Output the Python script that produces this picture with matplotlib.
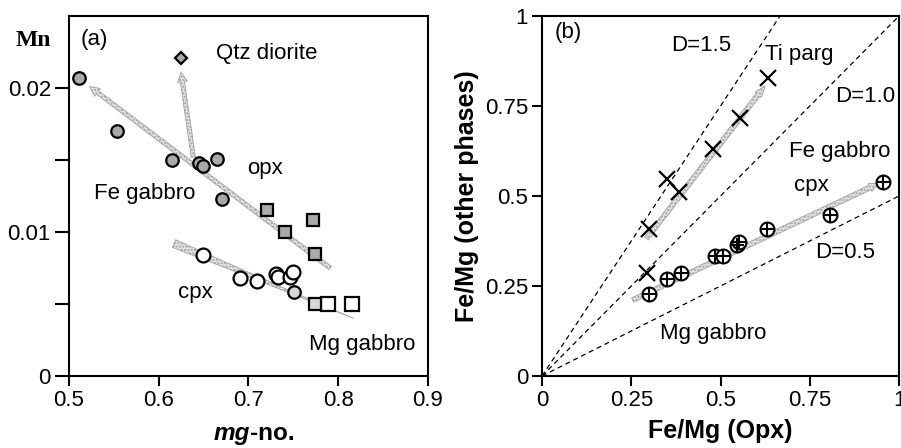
import numpy as np
import matplotlib
matplotlib.use("Agg")
import matplotlib.pyplot as plt

plt.rcParams['font.family'] = ['Liberation Sans', 'DejaVu Sans']

# ---- panel (a): Mn vs mg-no. ----
opx_fe_x = [0.511, 0.554, 0.615, 0.645, 0.649, 0.665, 0.671]
opx_fe_y = [0.0207, 0.0170, 0.0150, 0.0148, 0.0146, 0.0151, 0.0123]
opx_sq_x = [0.721, 0.741, 0.772, 0.774]
opx_sq_y = [0.0115, 0.0100, 0.0108, 0.0085]
cpx_x = [0.649, 0.691, 0.709, 0.731, 0.733, 0.746, 0.750]
cpx_y = [0.0084, 0.0068, 0.0066, 0.0071, 0.0069, 0.0069, 0.0072]
cpx_light_x = [0.751]
cpx_light_y = [0.0058]
cpx_sq_x = [0.789, 0.815]
cpx_sq_y = [0.0050, 0.0050]
cpx_sq_light_x = [0.774]
cpx_sq_light_y = [0.0050]
qtz_x = [0.625]
qtz_y = [0.0221]

trend_opx = [(0.791, 0.0075), (0.523, 0.0201)]
trend_qtz = [(0.6385, 0.0152), (0.6248, 0.0211)]
trend_cpx = [(0.617, 0.0092), (0.817, 0.0040)]

# ---- panel (b): Fe/Mg ----
tiparg_x = [0.632, 0.555, 0.480, 0.351, 0.385, 0.300, 0.295]
tiparg_y = [0.827, 0.718, 0.631, 0.547, 0.512, 0.407, 0.287]
cpxb_x = [0.956, 0.807, 0.629, 0.545, 0.553, 0.485, 0.508, 0.389, 0.351, 0.300]
cpxb_y = [0.540, 0.447, 0.407, 0.364, 0.373, 0.332, 0.332, 0.287, 0.269, 0.228]
D_values = [1.5, 1.0, 0.5]

trend_tiparg = [(0.293, 0.382), (0.625, 0.806)]
trend_cpxb = [(0.254, 0.211), (0.947, 0.537)]

FS = 16
STIP_FC = '#e2e2e2'
STIP_EC = '#a0a0a0'


def trend(ax, pts, style):
    ax.annotate('', xy=pts[1], xytext=pts[0],
                arrowprops=dict(arrowstyle=style, fc=STIP_FC, ec=STIP_EC,
                                lw=0.6, hatch='.....', shrinkA=0, shrinkB=0),
                zorder=1)


def style_axes(ax):
    for s in ax.spines.values():
        s.set_linewidth(1.5)
    ax.tick_params(direction='out', width=1.5, length=7, labelsize=FS,
                   pad=3)


fig = plt.figure(figsize=(9.01, 4.48), dpi=100)
axa = fig.add_axes([0.0766, 0.1607, 0.475 - 0.0766, 0.8036])
axb = fig.add_axes([0.6016, 0.1607, 0.9978 - 0.6016, 0.8036])

# panel (a)
trend(axa, trend_opx, 'simple,head_length=0.7,head_width=0.7,tail_width=0.3')
trend(axa, trend_qtz, 'simple,head_length=0.7,head_width=0.7,tail_width=0.3')
trend(axa, trend_cpx, 'wedge,tail_width=0.6,shrink_factor=0.4')

mk = dict(mec='black', mew=1.6, ls='none', zorder=3)
axa.plot(opx_fe_x, opx_fe_y, 'o', ms=9, mfc='#a9a9a9', **mk)
axa.plot(opx_sq_x, opx_sq_y, 's', ms=9, mfc='#a9a9a9', **mk)
axa.plot(cpx_x, cpx_y, 'o', ms=10, mfc='white', **mk)
axa.plot(cpx_light_x, cpx_light_y, 'o', ms=9, mfc='#d8d8d8', **mk)
axa.plot(cpx_sq_x, cpx_sq_y, 's', ms=10, mfc='white', **mk)
axa.plot(cpx_sq_light_x, cpx_sq_light_y, 's', ms=9, mfc='#d8d8d8', **mk)
axa.plot(qtz_x, qtz_y, 'D', ms=6, mfc='#a9a9a9', **mk)

axa.set_xlim(0.5, 0.9)
axa.set_ylim(0, 0.025)
axa.set_xticks([0.5, 0.6, 0.7, 0.8, 0.9])
axa.set_xticklabels(['0.5', '0.6', '0.7', '0.8', '0.9'])
axa.set_yticks([0, 0.005, 0.01, 0.015, 0.02])
axa.set_yticklabels(['0', '', '0.01', '', '0.02'])
style_axes(axa)
axa.tick_params(axis='y', length=10)

axa.text(0.528, 0.0234, '(a)', fontsize=FS, ha='center', va='center')
axa.text(0.7206, 0.0224, 'Qtz diorite', fontsize=FS, ha='center', va='center')
axa.text(0.7184, 0.0144, 'opx', fontsize=FS, ha='center', va='center')
axa.text(0.5847, 0.0127, 'Fe gabbro', fontsize=FS, ha='center', va='center')
axa.text(0.6404, 0.0058, 'cpx', fontsize=FS, ha='center', va='center')
axa.text(0.8265, 0.0022, 'Mg gabbro', fontsize=FS, ha='center', va='center')

fig.text(33 / 901, 1 - 40 / 448, 'Mn', fontsize=17, fontweight='bold',
         family='Liberation Serif', ha='center', va='center')
fig.text(250 / 901, 1 - 433 / 448, 'mg', fontsize=17.5, fontweight='bold',
         style='italic', ha='right', va='center')
fig.text(250 / 901, 1 - 433 / 448, '-no.', fontsize=17.5, fontweight='bold',
         ha='left', va='center')

# panel (b)
for D in D_values:
    xe = min(1.0, 1.0 / D)
    axb.plot([0, xe], [0, D * xe], ls=(0, (4, 3)), color='black', lw=0.9,
             zorder=2)

trend(axb, trend_tiparg, 'simple,head_length=0.8,head_width=0.6,tail_width=0.35')
trend(axb, trend_cpxb, 'simple,head_length=0.8,head_width=0.6,tail_width=0.35')

axb.plot(tiparg_x, tiparg_y, 'x', ms=11, mew=1.6, color='black', zorder=3)
axb.plot(cpxb_x, cpxb_y, 'o', ms=10, mfc='white', mec='black', mew=1.5,
         ls='none', zorder=3)
axb.plot(cpxb_x, cpxb_y, '+', ms=10, mec='black', mew=1.5, ls='none',
         zorder=4)

axb.set_xlim(0, 1)
axb.set_ylim(0, 1)
axb.set_xticks([0, 0.25, 0.5, 0.75, 1])
axb.set_xticklabels(['0', '0.25', '0.5', '0.75', '1'])
axb.set_yticks([0, 0.25, 0.5, 0.75, 1])
axb.set_yticklabels(['0', '0.25', '0.5', '0.75', '1'])
style_axes(axb)

axb.text(0.073, 0.953, '(b)', fontsize=FS, ha='center', va='center')
axb.text(0.447, 0.919, 'D=1.5', fontsize=FS, ha='center', va='center')
axb.text(0.721, 0.892, 'Ti parg', fontsize=FS, ha='center', va='center')
axb.text(0.905, 0.776, 'D=1.0', fontsize=FS, ha='center', va='center')
axb.text(0.835, 0.623, 'Fe gabbro', fontsize=FS, ha='center', va='center')
axb.text(0.755, 0.530, 'cpx', fontsize=FS, ha='center', va='center')
axb.text(0.849, 0.344, 'D=0.5', fontsize=FS, ha='center', va='center')
axb.text(0.480, 0.1185, 'Mg gabbro', fontsize=FS, ha='center', va='center')

axb.set_xlabel('Fe/Mg (Opx)', fontsize=18, fontweight='bold', labelpad=6)
axb.set_ylabel('Fe/Mg (other phases)', fontsize=18, fontweight='bold',
               labelpad=4)

fig.savefig('out.png', dpi=100)
